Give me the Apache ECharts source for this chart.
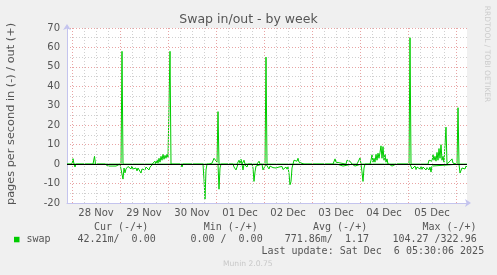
<!DOCTYPE html>
<html>
<head>
<meta charset="utf-8">
<script src="https://cdn.jsdelivr.net/npm/echarts@6.0.0/dist/echarts.min.js"></script>
<style>
html,body{margin:0;padding:0;background:#f0f0f0;}
#chart{width:497px;height:275px;}
</style>
</head>
<body>
<div id="chart"></div>
<script>
// Time unit: hours since 28 Nov 00:00 (graph spans 27 Nov 21:30 .. 6 Dec 05:30)
const dayLabels = ['28 Nov','29 Nov','30 Nov','01 Dec','02 Dec','03 Dec','04 Dec','05 Dec'];

// swap out (+)
const outHours = [-2.5,0,0.5,1,1.75,2.25,10.5,11.25,11.75,24.5,25,25.5,40,41.5,42,42.5,43,43.5,44,44.5,45,45.5,46,46.5,47,47.5,48,48.5,49,49.5,
  68.5,69,70,70.5,71,71.5,72,72.5,73,73.5,82.5,83,83.5,84,84.5,85,86,86.5,92.5,93,93.5,94,96.5,97,97.5,
  110.5,111,111.5,112,112.5,113,113.5,114,114.5,116,116.5,117,120.5,121,121.5,130.5,131.5,132,132.5,
  137,137.5,138,138.5,139,139.5,140,142.5,143,143.5,144,144.5,149,149.5,150,150.5,151,151.5,152,152.5,153,153.5,154,154.5,155,155.5,156,156.5,157,157.5,158,
  160.5,161,161.5,164,164.5,165,168.5,169,169.5,178,178.5,179,179.5,180,180.5,181,181.5,182,182.5,183,183.5,184,184.5,185,185.5,186,186.5,187,187.5,
  188.5,189,189.5,190,190.5,191,191.5,192.5,193,193.5,196,196.5,197,197.5];
const outValues = [0,0,2.8,0,0.5,0,0,4,0,0,58,0,0,1.5,0,2.2,0.5,3,1,4,2,5,2.5,4.5,3,5,3.5,4,58,0,
  0,1,0.5,1.5,3,2,3.5,1,27,0,0,1,2,0.5,2.5,0,2,0,0,1,1.5,0,0,55,0,
  0,2,1,2.5,1.5,3,1,2,0,0,1,0,0,1,0,0,2.7,1,0,
  0,2,1,3,1.5,2.5,0,0,0.6,0,3.2,0,0,2,4.8,1,3,1,5,2,5.6,3,6,9.4,3,9,2,5,1,2.7,0,
  0,0.5,0,0,0.5,0,0,65,0,0,2,1,3,1.5,4.8,2,4,1.5,6,2,8,3,10,2,4,1,0,19,0,
  0,1.5,0.5,2.7,0.5,1,0,0,29,0,0,1,0,0];

// swap in (-)
const inHours = [-2.5,1,1.5,2,11.75,12,12.5,16.5,17,18,19,20,21,22,23,24,25,25.5,26,26.5,27,27.5,28,28.5,29,29.5,30,30.5,31,31.5,32,32.5,33,33.5,34,34.5,35,35.5,36,36.5,37,37.5,38,38.5,39,39.5,40,40.5,
  49.5,50,50.5,51.5,52,52.5,54.5,55,55.5,59,59.5,60,65.5,66,66.5,67,67.5,73,73.5,74,74.5,80.5,81,81.5,82,82.5,83,85,85.5,86,87,87.5,88,90,90.5,91,91.5,92,92.5,
  95,95.5,96,96.5,97,98,98.5,99,99.5,100,100.5,101,101.5,102,102.5,103,103.5,104,104.5,105,105.5,106,106.5,107,107.5,108,108.5,109,109.5,110,110.5,
  117,117.5,118,120,120.5,121,122,122.5,123,132.5,133,134,134.5,135,135.5,136,136.5,140,140.5,141.5,142,144.5,145,145.5,146,146.5,
  158.5,159,160,160.5,162,162.5,163,169,169.5,170,170.5,171,171.5,172,172.5,173,173.5,174,174.5,175,175.5,176,176.5,177,177.5,178,178.5,179,179.5,180,180.5,
  193.5,194,194.5,195,195.5,196,196.5,197,197.5];
const inValues = [0,0,-1.5,0,0,-1,0,0,-0.5,-1,-0.5,-1,-0.7,-1,-0.5,0,0,-7.7,-2,-4.5,-2.5,-3,-1.2,-2,-1.5,-2.5,-1,-2.5,-3,-1.5,-2,-3.5,-2,-3,-2.5,-4.6,-2.5,-3.5,-2,-3,-1.5,-2.5,-1,-3,-1.5,-0.5,-2,0,
  0,-1,0,0,-0.5,0,0,-1.5,0,0,-0.8,0,0,-8,-18,-3,0,0,-12.9,-2,0,0,-1.5,-2,-3,-1.5,0,0,-3,0,0,-1.5,0,0,-2,-8.9,-4,-1,0,
  0,-3,-2,-3.5,0,0,-2.5,-1,-2,-1.2,-1.8,-0.8,-1.5,-2,-1.3,-2.5,-1.5,-1.8,-2,-1.2,-2.8,-1.8,-2.2,-1.5,-2.6,-1.4,-5,-10.6,-9,-2,0,
  0,-0.5,0,0,-0.8,0,0,-0.6,0,0,-1,-0.5,-1.2,-0.8,-1,-1.2,0,0,-0.8,-1,0,0,-4,-8.9,-2,0,
  0,-0.5,-1,0,0,-0.8,0,0,-1,-2.5,-1.5,-2,-1,-2.8,-1.5,-2,-1,-2.5,-1.3,-2.7,-1.5,-2.2,-1,-3,-1.8,-2.5,-3,-1.5,-4.1,-1,0,
  0,-4.6,-5,-2,-3,-1,-2.5,-1,-1.5];

const X_MIN = -2.5, X_MAX = 197.5;
const zip = (a, b) => a.map((h, i) => [h, b[i]]);

const MAJOR = '#e8a4a4', MINOR = '#d0d0d0', DOT = [1, 2];
const gridMarks = [];
for (let h = 0; h <= X_MAX; h += 6) {
  if (h < X_MIN) continue;
  const major = h % 24 === 0;
  gridMarks.push({ xAxis: h, lineStyle: { color: major ? MAJOR : MINOR, type: DOT, width: 1 } });
}
const labelHours = dayLabels.map((_, i) => 12 + 24 * i);

const chart = echarts.init(document.getElementById('chart'), null, { renderer: 'canvas' });
const FONT = 'DejaVu Sans';
const MONO = 'DejaVu Sans Mono';
const TXT = '#555';
const legendText = (t, x, y) => ({ type: 'text', x: x, y: y, style: { text: t, font: '10px "' + MONO + '"', fill: TXT, textVerticalAlign: 'middle' } });

chart.setOption({
  backgroundColor: '#f0f0f0',
  animation: false,
  grid: { left: 67, top: 28, width: 400, height: 175, show: true, backgroundColor: '#ffffff', borderWidth: 0 },
  xAxis: {
    type: 'value', min: X_MIN, max: X_MAX,
    axisLine: { show: true, onZero: false, lineStyle: { color: '#c4c4ee', width: 1 }, symbol: ['none', 'arrow'], symbolSize: [6, 6], symbolOffset: [0, 4] },
    axisTick: { show: false },
    splitLine: { show: false },
    axisLabel: {
      customValues: labelHours, margin: 5, color: TXT, fontFamily: FONT, fontSize: 10,
      formatter: v => dayLabels[Math.round((v - 12) / 24)] || ''
    }
  },
  yAxis: {
    type: 'value', min: -20, max: 70, interval: 10,
    axisLine: { show: true, onZero: false, lineStyle: { color: '#c4c4ee', width: 1 }, symbol: ['none', 'arrow'], symbolSize: [6, 6], symbolOffset: [0, 4] },
    axisTick: { show: false },
    axisLabel: { margin: 7, color: TXT, fontFamily: FONT, fontSize: 10 },
    splitLine: { show: true, lineStyle: { color: MAJOR, type: DOT, width: 1 } },
    minorTick: { show: false, splitNumber: 2 },
    minorSplitLine: { show: true, lineStyle: { color: MINOR, type: DOT, width: 1 } }
  },
  series: [
    { type: 'line', name: 'grid', z: 1, data: [[X_MIN, null]], showSymbol: false, silent: true,
      lineStyle: { opacity: 0 },
      markLine: { silent: true, symbol: ['none', 'none'], label: { show: false }, animation: false, data: gridMarks } },
    { type: 'line', name: 'swap out', z: 3, data: zip(outHours, outValues), showSymbol: false, symbol: 'none',
      lineStyle: { color: '#00cc00', width: 1 }, itemStyle: { color: '#00cc00' } },
    { type: 'line', name: 'swap in', z: 3, data: zip(inHours, inValues), showSymbol: false, symbol: 'none',
      lineStyle: { color: '#00cc00', width: 1 }, itemStyle: { color: '#00cc00' } },
    { type: 'line', name: 'zero', z: 5, data: [[X_MIN, null]], showSymbol: false, silent: true,
      lineStyle: { opacity: 0 },
      markLine: { silent: true, symbol: ['none', 'none'], label: { show: false }, animation: false,
        data: [{ yAxis: 0, lineStyle: { color: '#000000', type: 'solid', width: 1 } }] } }
  ],
  graphic: [
    { type: 'text', x: 248.5, y: 19.5, style: { text: 'Swap in/out - by week', font: '12.5px "' + FONT + '"', fill: TXT, textAlign: 'center', textVerticalAlign: 'middle' } },
    { type: 'text', x: 11.5, y: 114, rotation: Math.PI / 2, style: { text: 'pages per second in (-) / out (+)', font: '11.3px "' + FONT + '"', fill: TXT, textAlign: 'center', textVerticalAlign: 'middle' } },
    { type: 'text', x: 487, y: 54, rotation: -Math.PI / 2, style: { text: 'RRDTOOL / TOBI OETIKER', font: '7.5px "' + FONT + '"', fill: '#cccccc', textAlign: 'center', textVerticalAlign: 'middle' } },
    legendText('Cur (-/+)', 94, 227.7),
    legendText('Min (-/+)', 203.7, 227.7),
    legendText('Avg (-/+)', 313, 227.7),
    legendText('Max (-/+)', 422.4, 227.7),
    { type: 'rect', shape: { x: 14, y: 236.8, width: 5.5, height: 5.5 }, style: { fill: '#00cc00' } },
    legendText('swap', 26.4, 239.3),
    legendText('42.21m/  0.00', 77.4, 239.3),
    legendText('0.00 /  0.00', 190.4, 239.3),
    legendText('771.86m/  1.17', 284.7, 239.3),
    legendText('104.27 /322.96', 392.4, 239.3),
    legendText('Last update: Sat Dec  6 05:30:06 2025', 261.4, 251),
    { type: 'text', x: 223, y: 264, style: { text: 'Munin 2.0.75', font: '7.6px "' + FONT + '"', fill: '#c8c8c8', textVerticalAlign: 'middle' } }
  ]
});
</script>
</body>
</html>
